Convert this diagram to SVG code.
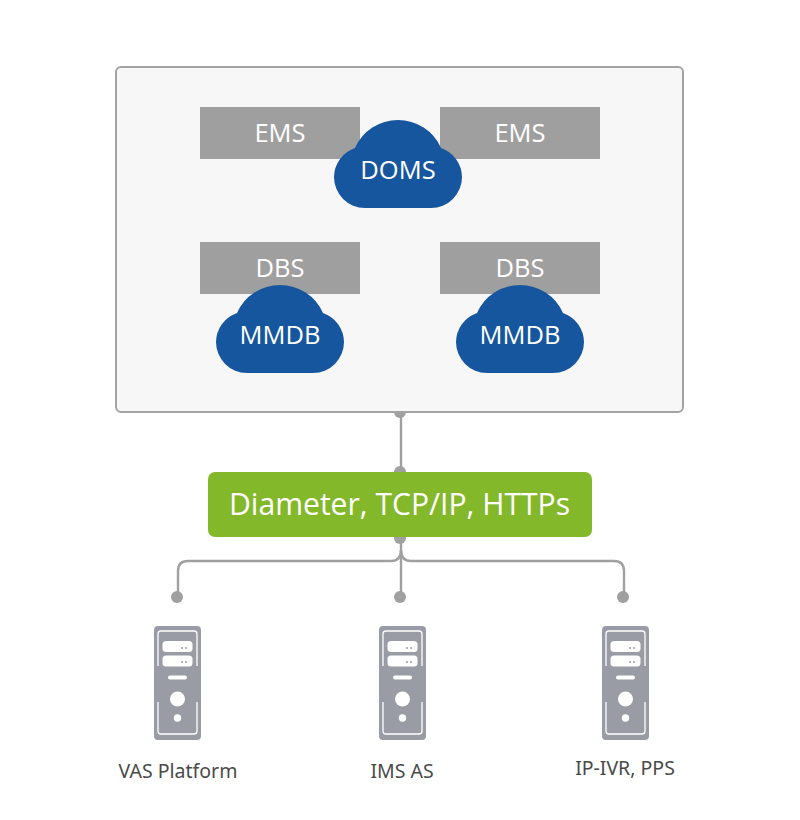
<svg xmlns="http://www.w3.org/2000/svg" xmlns:xlink="http://www.w3.org/1999/xlink" width="800" height="820" viewBox="0 0 800 820">
<style>
.bar{fill:#9f9f9f}
.w{fill:#fff;font-family:"Open Sans","Noto Sans",sans-serif;text-anchor:middle}
.t{font-size:25.500px}
.cloud{fill:#16569f}
.conn{fill:none;stroke:#a0a0a0;stroke-width:2.4}
.dot{fill:#a0a0a0}
.lab{fill:#4a4a4a;font-family:"Noto Sans",sans-serif;font-size:19.500px;text-anchor:middle}
</style>
<defs>
<path id="cl" class="cloud" d="M31 88A31 31 0 0 1 0 57A31 31 0 0 1 21 28A47 47 0 0 1 107 28A31 31 0 0 1 128 57A31 31 0 0 1 97 88Z"/>
<g id="srv">
<rect x="0" y="0" width="47" height="114" rx="4" fill="#9a9ca5"/>
<path d="M4 40V8Q4 5 7 5H40Q43 5 43 8V40M43 76V105Q43 108 40 108H7Q4 108 4 105V76" fill="none" stroke="#fff" stroke-width="1.300"/>
<rect x="8.500" y="15" width="30" height="11" rx="3.500" fill="#fff"/>
<rect x="8.500" y="29.500" width="30" height="11" rx="3.500" fill="#fff"/>
<rect x="14" y="49.500" width="19" height="4" rx="2" fill="#fff"/>
<circle cx="23.500" cy="73" r="7.500" fill="#fff"/>
<circle cx="23.500" cy="92" r="3.700" fill="#fff"/>
<circle cx="28" cy="22" r="1" fill="#9a9ca5"/><circle cx="32" cy="22" r="1" fill="#9a9ca5"/>
<circle cx="28" cy="36" r="1" fill="#9a9ca5"/><circle cx="32" cy="36" r="1" fill="#9a9ca5"/>
</g>
</defs>
<rect width="800" height="820" fill="#fff"/>
<g id="connectors">
<path class="conn" d="M401 412V472"/>
<path class="conn" d="M401 537V597"/>
<path class="conn" d="M401 550Q401 561 391 561H188Q178 561 178 571V597"/>
<path class="conn" d="M401 550Q401 561 411 561H614Q624 561 624 571V597"/>
<circle class="dot" cx="400" cy="412" r="6"/>
<circle class="dot" cx="400" cy="472" r="6"/>
<circle class="dot" cx="400" cy="538" r="6"/>
<circle class="dot" cx="177" cy="597" r="6"/>
<circle class="dot" cx="400" cy="597" r="6"/>
<circle class="dot" cx="623" cy="597" r="6"/>
</g>
<g id="platform"><rect x="116" y="67" width="567" height="345" rx="5" fill="#f7f7f7" stroke="#a3a3a3" stroke-width="2"/></g>
<g id="ems1"><rect class="bar" x="200" y="107" width="160" height="52"/><text class="w t" x="280" y="142">EMS</text></g>
<g id="ems2"><rect class="bar" x="440" y="107" width="160" height="52"/><text class="w t" x="520" y="142">EMS</text></g>
<g id="doms"><use xlink:href="#cl" href="#cl" x="334" y="120"/><text class="w t" x="398" y="179">DOMS</text></g>
<g id="dbs1"><rect class="bar" x="200" y="242" width="160" height="52"/><text class="w t" x="280" y="277">DBS</text></g>
<g id="dbs2"><rect class="bar" x="440" y="242" width="160" height="52"/><text class="w t" x="520" y="277">DBS</text></g>
<g id="mmdb1"><use xlink:href="#cl" href="#cl" x="216" y="285"/><text class="w t" x="280" y="344">MMDB</text></g>
<g id="mmdb2"><use xlink:href="#cl" href="#cl" x="456" y="285"/><text class="w t" x="520" y="344">MMDB</text></g>
<g id="protocols"><rect x="208" y="472" width="384" height="65" rx="7" fill="#84b82b"/><text class="w" x="399.500" y="515" font-size="30.100">Diameter, TCP/IP, HTTPs</text></g>
<g id="vas"><use xlink:href="#srv" href="#srv" x="154" y="626"/><text class="lab" x="178" y="778">VAS Platform</text></g>
<g id="ims"><use xlink:href="#srv" href="#srv" x="379" y="626"/><text class="lab" x="402" y="778">IMS AS</text></g>
<g id="ivr"><use xlink:href="#srv" href="#srv" x="602" y="626"/><text class="lab" x="625" y="775">IP-IVR, PPS</text></g>
</svg>
